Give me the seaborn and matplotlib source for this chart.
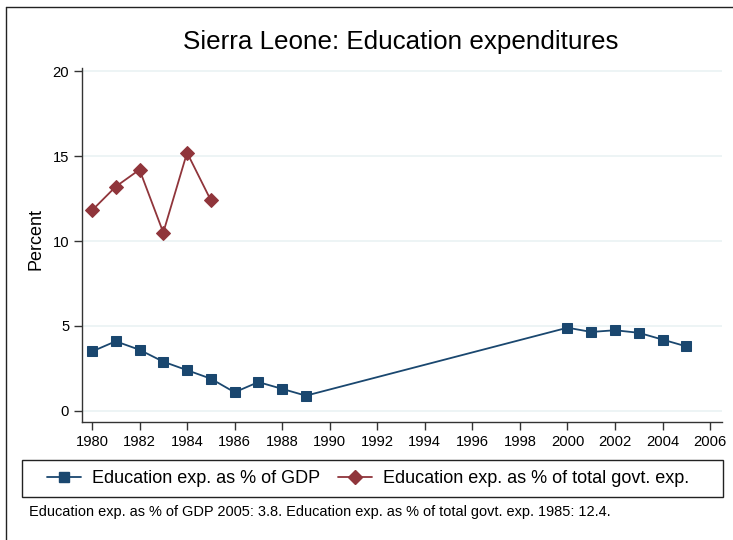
import numpy as np
import pandas as pd
import matplotlib
matplotlib.use("Agg")
import matplotlib.pyplot as plt
from matplotlib.lines import Line2D
from matplotlib.patches import Rectangle
import seaborn as sns

# Education exp. as % of GDP
gdp_years = [1980, 1981, 1982, 1983, 1984, 1985, 1986, 1987, 1988, 1989,
             2000, 2001, 2002, 2003, 2004, 2005]
gdp_values = [3.5, 4.1, 3.6, 2.9, 2.4, 1.9, 1.1, 1.7, 1.3, 0.9,
              4.9, 4.65, 4.75, 4.6, 4.2, 3.8]

# Education exp. as % of total govt. exp.
govt_years = [1980, 1981, 1982, 1983, 1984, 1985]
govt_values = [11.8, 13.2, 14.2, 10.5, 15.2, 12.4]

x_ticks = list(range(1980, 2007, 2))
y_ticks = [0, 5, 10, 15, 20]

navy = "#1a476f"
maroon = "#90353b"

sns.set_style("white")
plt.rcParams['font.family'] = ['Liberation Sans', 'DejaVu Sans']
plt.rcParams['text.color'] = 'black'
plt.rcParams['xtick.labelcolor'] = 'black'
plt.rcParams['ytick.labelcolor'] = 'black'

fig = plt.figure(figsize=(7.33, 5.4), dpi=100)
ax = fig.add_axes([0.1115, 0.2185, 0.8735, 0.6555])

gdp = pd.DataFrame({'year': gdp_years, 'value': gdp_values})
govt = pd.DataFrame({'year': govt_years, 'value': govt_values})

sns.lineplot(data=gdp, x='year', y='value', ax=ax, color=navy, marker='s',
             markersize=7, markeredgecolor=navy, linewidth=1.3)
sns.lineplot(data=govt, x='year', y='value', ax=ax, color=maroon, marker='D',
             markersize=7, markeredgecolor=maroon, linewidth=1.3)

ax.set_xlim(1979.57, 2006.5)
ax.set_ylim(-0.65, 20.18)
ax.set_xticks(x_ticks)
ax.set_yticks(y_ticks)
ax.yaxis.grid(True, color="#eaf2f3", linewidth=1.2)
ax.xaxis.grid(False)
ax.set_axisbelow(True)

for s in ['top', 'right']:
    ax.spines[s].set_visible(False)
for s in ['left', 'bottom']:
    ax.spines[s].set_color("#333333")
    ax.spines[s].set_linewidth(1.0)

ax.tick_params(axis='both', direction='out', length=6, width=1.0,
               color="#333333", labelcolor='black', labelsize=10.6, pad=3,
               left=True, bottom=True)
ax.set_xlabel('')
ax.set_ylabel('')

fig.text(36.5 / 733, 1 - 239 / 540, 'Percent', rotation=90,
         ha='center', va='center', fontsize=13, color='black')

fig.text(401 / 733, 1 - 42 / 540, 'Sierra Leone: Education expenditures',
         ha='center', va='center', fontsize=18.7, color='black')

handles = [
    Line2D([], [], color=navy, marker='s', markersize=7, linewidth=1.3),
    Line2D([], [], color=maroon, marker='D', markersize=7, linewidth=1.3),
]
labels = ['Education exp. as % of GDP', 'Education exp. as % of total govt. exp.']
leg = fig.legend(handles, labels, ncol=2, loc='center',
                 bbox_to_anchor=(368 / 733, 1 - 478.5 / 540),
                 fontsize=13, frameon=False, labelcolor='black',
                 handlelength=1.9, columnspacing=1.0, handletextpad=0.6,
                 borderpad=0.0)
fig.add_artist(Rectangle((22 / 733, 1 - 497 / 540), 701 / 733, 37 / 540,
                         transform=fig.transFigure, fill=False,
                         edgecolor="#222222", linewidth=1.0))

fig.text(29 / 733, 1 - 512 / 540,
         'Education exp. as % of GDP 2005: 3.8. Education exp. as % of total govt. exp. 1985: 12.4.',
         ha='left', va='center', fontsize=10.45, color='black')

# outer graph border (top and left edges visible)
fig.add_artist(Line2D([6 / 733, 1.0], [1 - 7 / 540, 1 - 7 / 540],
                      transform=fig.transFigure, color="#222222", linewidth=1.0))
fig.add_artist(Line2D([6 / 733, 6 / 733], [0.0, 1 - 7 / 540],
                      transform=fig.transFigure, color="#222222", linewidth=1.0))

fig.savefig('out.png', dpi=100, facecolor='white')
